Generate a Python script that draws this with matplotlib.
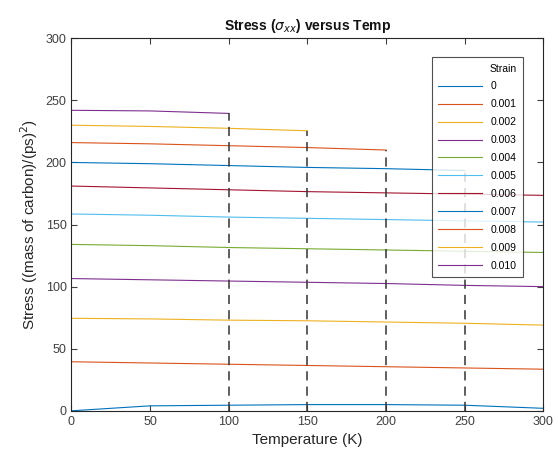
import matplotlib
matplotlib.use("Agg")
import matplotlib.pyplot as plt

plt.rcParams["font.family"] = ["Liberation Sans", "DejaVu Sans"]

# Temperatures sampled (K)
temps = [0, 50, 100, 150, 200, 250, 300]

strain_labels = ["0", "0.001", "0.002", "0.003", "0.004", "0.005",
                 "0.006", "0.007", "0.008", "0.009", "0.010"]

# Stress per strain; shorter series stop at their breaking temperature
stress_0000 = [0.0, 4.0, 4.5, 5.0, 5.0, 4.5, 2.0]
stress_0001 = [39.5, 38.5, 37.5, 36.5, 35.5, 34.5, 33.5]
stress_0002 = [74.5, 74.0, 73.0, 72.5, 71.5, 70.5, 69.0]
stress_0003 = [106.5, 105.5, 104.5, 103.5, 102.5, 101.0, 100.0]
stress_0004 = [134.0, 133.0, 131.5, 130.5, 129.5, 128.5, 127.5]
stress_0005 = [158.5, 157.5, 156.0, 155.0, 154.0, 153.0, 152.0]
stress_0006 = [181.0, 179.5, 178.0, 176.5, 175.5, 174.5, 173.5]
stress_0007 = [200.0, 199.0, 197.5, 196.0, 195.0, 193.5]
stress_0008 = [216.0, 215.0, 213.5, 212.0, 210.0]
stress_0009 = [230.0, 229.0, 227.5, 225.5]
stress_0010 = [242.0, 241.5, 239.5]

series = [stress_0000, stress_0001, stress_0002, stress_0003, stress_0004,
          stress_0005, stress_0006, stress_0007, stress_0008, stress_0009,
          stress_0010]

# MATLAB default colour order
COLORS = ["#0072BD", "#D95319", "#EDB120", "#7E2F8E", "#77AC30",
          "#4DBEEE", "#A2142F"]

fig = plt.figure(figsize=(5.58, 4.59), dpi=100)
ax = fig.add_axes([0.128, 0.105, 0.846, 0.8116])

for i, (vals, lab) in enumerate(zip(series, strain_labels)):
    ax.plot(temps[:len(vals)], vals, color=COLORS[i % len(COLORS)],
            lw=0.8, label=lab)

# dashed drop lines where a series ends before 300 K
for vals in series:
    if len(vals) < len(temps):
        t_end = temps[len(vals) - 1]
        ax.plot([t_end, t_end], [0, vals[-1]], color="#333333", lw=1.1,
                linestyle=(0, (6, 4)))

ax.set_xlim(0, 300)
ax.set_ylim(0, 300)
ax.set_xticks(range(0, 301, 50))
ax.set_yticks(range(0, 301, 50))
ax.tick_params(direction="in", top=True, right=True, labelsize=9,
               colors="#404040", length=4, width=0.8)
for s in ax.spines.values():
    s.set_color("#262626")
    s.set_linewidth(0.8)

ax.set_xlabel("Temperature (K)", fontsize=11, color="#262626")
ax.set_ylabel("Stress ((mass of carbon)/(ps)$^2$)", fontsize=11,
              color="#262626")
ax.set_title(r"Stress ($\sigma_{xx}$) versus Temp", fontsize=10,
             fontweight="bold", color="#111111", pad=6)

leg = ax.legend(title="Strain", loc="upper right",
                bbox_to_anchor=(0.967, 0.963), fontsize=7.5,
                title_fontsize=7.5, handlelength=4.2, labelspacing=0.76,
                borderpad=0.6, frameon=True, fancybox=False,
                edgecolor="#262626", alignment="right")
leg.get_frame().set_linewidth(0.8)

plt.savefig("out.png", dpi=100)
